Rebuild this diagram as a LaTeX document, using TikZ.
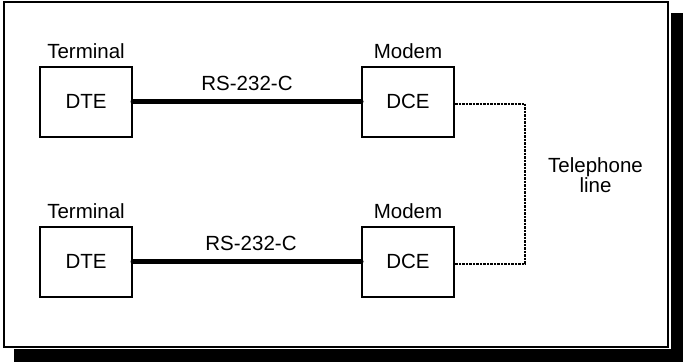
\documentclass[tikz,border=0pt]{standalone}
\usepackage{fontspec}
\setmainfont{Liberation Sans}
\usetikzlibrary{positioning}
\tikzset{
  unit/.style={
    rectangle, draw, line width=2pt,
    minimum width=92pt, minimum height=70pt,
    inner sep=0pt, font=\fontsize{20.5}{20}\selectfont},
  tag/.style={inner sep=0pt, anchor=base, font=\fontsize{20.5}{20}\selectfont},
  cable/.style={line width=5pt, line cap=round},
  phoneline/.style={line width=2pt, dash pattern=on 2.5pt off 1pt},
}

\begin{document}
\begin{tikzpicture}[x=1pt,y=-1pt]
  \useasboundingbox (0,0) rectangle (683,362);
  % frame with its shadow
  \fill (14,13) rectangle (683,362);
  \fill[white] (1,0) rectangle (670.5,349);
  \draw[line width=2pt, fill=white] (4,2) rectangle (668,347);

  \node[unit] (dte1) at (86,101.7) {DTE};
  \node[unit, right=228pt of dte1] (dce1) {DCE};
  \node[unit, below=88pt of dte1] (dte2) {DTE};
  \node[unit, right=228pt of dte2] (dce2) {DCE};

  \node[above=7.7pt of dte1.north, tag] (term1) {Terminal};
  \node[above=7.7pt of dce1.north, tag] (mod1) {Modem};
  \node[above=7.7pt of dte2.north, tag] (term2) {Terminal};
  \node[above=7.7pt of dce2.north, tag] (mod2) {Modem};

  \draw[cable] (dte1) -- node[above=11pt, tag] (rs1) {RS-232-C} (dce1);
  \draw[cable] (dte2) -- node[above=11pt, tag, xshift=4pt] (rs2) {RS-232-C} (dce2);

  \coordinate (bend) at (525,175);
  \draw[phoneline] ([yshift=-2pt]dce1.east) -| (bend) |- ([yshift=-2pt]dce2.east);
  \node[right=23pt of bend, align=center, inner sep=0pt,
        font=\fontsize{20.5}{20}\selectfont] (tel) {Telephone\\line};
\end{tikzpicture}
\end{document}
